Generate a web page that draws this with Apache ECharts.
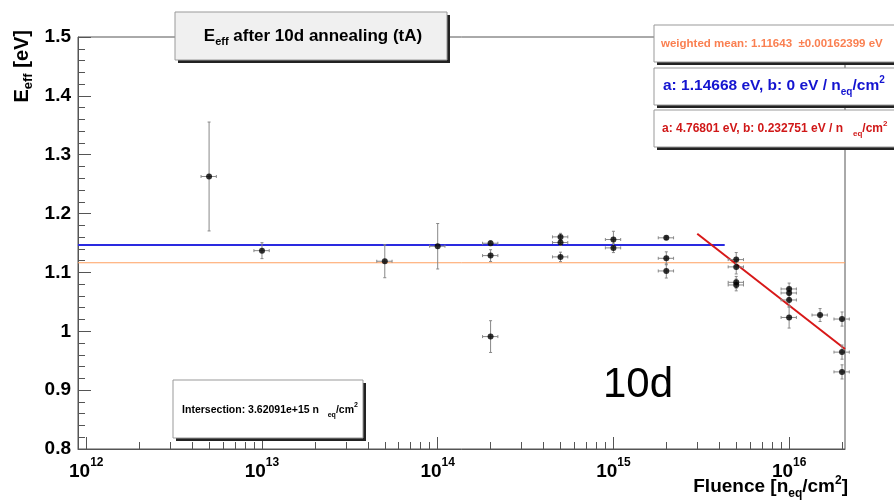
<html>
<head>
<meta charset="utf-8">
<script src="https://cdn.jsdelivr.net/npm/echarts@6/dist/echarts.min.js"></script>
</head>
<body>
<style>
html, body, #main { width: 100%; height: 100%; margin: 0; background: #fff; }
</style>
<div id="main"></div>
<script>
// measured points: fluence [n_eq/cm^2], E_eff [eV], error on E_eff
var fluence = [5e12, 1e13, 5e13, 1e14, 2e14, 2e14, 2e14, 5e14, 5e14, 5e14, 1e15, 1e15, 2e15, 2e15, 2e15,
               5e15, 5e15, 5e15, 5e15, 1e16, 1e16, 1e16, 1e16, 1.5e16, 2e16, 2e16, 2e16];
var eEff = [1.263, 1.137, 1.119, 1.1445, 1.1496, 1.1286, 0.991, 1.1604, 1.1508, 1.1264, 1.1559, 1.1417, 1.1588, 1.124, 1.1025,
            1.1218, 1.1094, 1.0832, 1.0787, 1.0719, 1.0651, 1.0532, 1.0235, 1.0276, 1.0208, 0.9646, 0.931];
var eErr = [0.0925, 0.0135, 0.028, 0.0386, 0.004, 0.01, 0.027, 0.006, 0.005, 0.008, 0.014, 0.008, 0.003, 0.011, 0.012,
            0.012, 0.012, 0.01, 0.01, 0.01, 0.008, 0.012, 0.018, 0.011, 0.012, 0.012, 0.012];
var fluenceErr = 0.1; // relative

// fit lines
var meanX = [8.97e11, 2.08e16], meanY = [1.11643, 1.11643];
var flatX = [8.97e11, 4.3e15], flatY = [1.14668, 1.14668];
var slopeX = [3.0e15, 2.08e16], slopeY = [1.1657, 0.9700];

var xMajor = [12, 13, 14, 15, 16];

var lg = Math.log10;
var xMinor = [];
for (var n = 12; n <= 16; n++) {
    for (var k = 2; k <= 9; k++) {
        if (n + lg(k) < 16.318) xMinor.push(n + lg(k));
    }
}

var pts = [], bars = [];
for (var i = 0; i < fluence.length; i++) {
    pts.push([lg(fluence[i]), eEff[i]]);
    bars.push([lg(fluence[i]), eEff[i], eErr[i], lg(fluence[i] * (1 - fluenceErr)), lg(fluence[i] * (1 + fluenceErr))]);
}
function toLine(xs, ys) {
    return xs.map(function (x, j) { return [lg(x), ys[j]]; });
}

var F = 'Liberation Sans';
function box(x, y, w, h, fill) {
    return [
        {type: 'rect', z: 100, shape: {x: x + 3, y: y + 3, width: w, height: h}, style: {fill: '#222'}},
        {type: 'rect', z: 101, shape: {x: x, y: y, width: w, height: h}, style: {fill: fill, stroke: '#999', lineWidth: 1}}
    ];
}
function rt(size, color) {
    return {
        t: {fontSize: size, fontWeight: 'bold', fontFamily: F, fill: color, lineHeight: size + 6, verticalAlign: 'middle'},
        sub: {fontSize: Math.round(size * 0.65), fontWeight: 'bold', fontFamily: F, fill: color, lineHeight: Math.round(size * 0.6), verticalAlign: 'bottom'},
        sup: {fontSize: Math.round(size * 0.65), fontWeight: 'bold', fontFamily: F, fill: color, lineHeight: Math.round(size * 0.6), verticalAlign: 'top'}
    };
}

var chart = echarts.init(document.getElementById('main'));
var option = {
    animation: false,
    backgroundColor: '#fff',
    grid: {left: 78, right: 49, top: 37, bottom: 51, show: true, borderColor: '#555', borderWidth: 1},
    xAxis: [{
        type: 'value', position: 'bottom', min: 11.953, max: 16.318,
        axisLine: {lineStyle: {color: '#555'}},
        splitLine: {show: false},
        axisTick: {inside: true, length: 12, customValues: xMajor, lineStyle: {color: '#555'}},
        axisLabel: {
            customValues: xMajor, margin: 8,
            formatter: function (v) { return '{b|10}{s|' + Math.round(v) + '}'; },
            rich: {
                b: {fontSize: 19, fontWeight: 'bold', fontFamily: F, color: '#000', lineHeight: 24, verticalAlign: 'bottom'},
                s: {fontSize: 12, fontWeight: 'bold', fontFamily: F, color: '#000', lineHeight: 12, verticalAlign: 'top'}
            }
        }
    }, {
        type: 'value', position: 'bottom', min: 11.953, max: 16.318,
        axisLine: {show: false}, splitLine: {show: false}, axisLabel: {show: false},
        axisTick: {inside: true, length: 7, customValues: xMinor, lineStyle: {color: '#555'}}
    }],
    yAxis: {
        type: 'value', min: 0.8, max: 1.5, interval: 0.1,
        axisLine: {show: true, lineStyle: {color: '#555'}},
        splitLine: {show: false},
        axisTick: {inside: true, length: 13, lineStyle: {color: '#555'}},
        minorTick: {show: true, splitNumber: 5, length: 7, lineStyle: {color: '#555'}},
        axisLabel: {
            margin: 7, fontSize: 19, fontWeight: 'bold', fontFamily: F, color: '#000',
            formatter: function (v) { return String(+v.toFixed(2)); }
        }
    },
    series: [{
        type: 'line', data: toLine(meanX, meanY), symbol: 'none', z: 2,
        lineStyle: {color: '#ffa060', width: 1}
    }, {
        type: 'line', data: toLine(flatX, flatY), symbol: 'none', z: 2,
        lineStyle: {color: '#2a2ae0', width: 2}
    }, {
        type: 'line', data: toLine(slopeX, slopeY), symbol: 'none', z: 2,
        lineStyle: {color: '#d81818', width: 2}
    }, {
        type: 'custom', data: bars, z: 3,
        renderItem: function (params, api) {
            var x = api.value(0), y = api.value(1), e = api.value(2);
            var top = api.coord([x, y + e]), bot = api.coord([x, y - e]);
            var l = api.coord([api.value(3), y]), r = api.coord([api.value(4), y]);
            var st = {stroke: '#888', lineWidth: 1};
            function ln(a, b, c, d) { return {type: 'line', shape: {x1: a, y1: b, x2: c, y2: d}, style: st}; }
            return {type: 'group', children: [
                ln(top[0], top[1], bot[0], bot[1]),
                ln(l[0], l[1], r[0], r[1]),
                ln(top[0] - 1.5, top[1], top[0] + 1.5, top[1]),
                ln(bot[0] - 1.5, bot[1], bot[0] + 1.5, bot[1]),
                ln(l[0], l[1] - 1.5, l[0], l[1] + 1.5),
                ln(r[0], r[1] - 1.5, r[0], r[1] + 1.5)
            ]};
        }
    }, {
        type: 'scatter', data: pts, symbol: 'circle', symbolSize: 6, z: 4,
        itemStyle: {color: '#000'}
    }],
    graphic: [].concat(
        box(175, 12, 272, 48, '#f0f0f0'),
        [{type: 'text', z: 102, x: 313, y: 36, style: {
            text: '{t|E}{sub|eff}{t| after 10d annealing (tA)}', rich: rt(17, '#000'),
            align: 'center', verticalAlign: 'middle'}}],
        box(654, 25, 260, 37, '#fff'),
        [{type: 'text', z: 102, x: 661, y: 44, style: {
            text: '{t|weighted mean: 1.11643  \u00b10.00162399 eV}', rich: rt(11.5, '#fa7f50'),
            align: 'left', verticalAlign: 'middle'}}],
        box(654, 68, 260, 37, '#fff'),
        [{type: 'text', z: 102, x: 663, y: 86, style: {
            text: '{t|a: 1.14668 eV, b: 0 eV / n}{sub|eq}{t|/cm}{sup|2}', rich: rt(15.5, '#1414d0'),
            align: 'left', verticalAlign: 'middle'}}],
        box(654, 110, 260, 37, '#fff'),
        [{type: 'text', z: 102, x: 662, y: 129, style: {
            text: '{t|a: 4.76801 eV, b: 0.232751 eV / n   }{sub|eq}{t|/cm}{sup|2}', rich: rt(12, '#d01818'),
            align: 'left', verticalAlign: 'middle'}}],
        box(173, 380, 190, 58, '#fff'),
        [{type: 'text', z: 102, x: 270, y: 410, style: {
            text: '{t|Intersection: 3.62091e+15 n   }{sub|eq}{t|/cm}{sup|2}', rich: rt(10.5, '#000'),
            align: 'center', verticalAlign: 'middle'}}],
        [{type: 'text', z: 102, x: 603, y: 385, style: {
            text: '10d', font: '42px "Liberation Sans"', fill: '#000',
            align: 'left', verticalAlign: 'middle'}}],
        [{type: 'text', z: 102, x: 22, y: 30, rotation: Math.PI / 2, style: {
            text: '{t|E}{sub|eff}{t| [eV]}', rich: rt(20, '#000'),
            align: 'right', verticalAlign: 'middle'}}],
        [{type: 'text', z: 102, x: 848, y: 487, style: {
            text: '{t|Fluence [n}{sub|eq}{t|/cm}{sup|2}{t|]}', rich: rt(19, '#000'),
            align: 'right', verticalAlign: 'middle'}}]
    )
};
chart.setOption(option);
window.onresize = chart.resize;
</script>
</body>
</html>
